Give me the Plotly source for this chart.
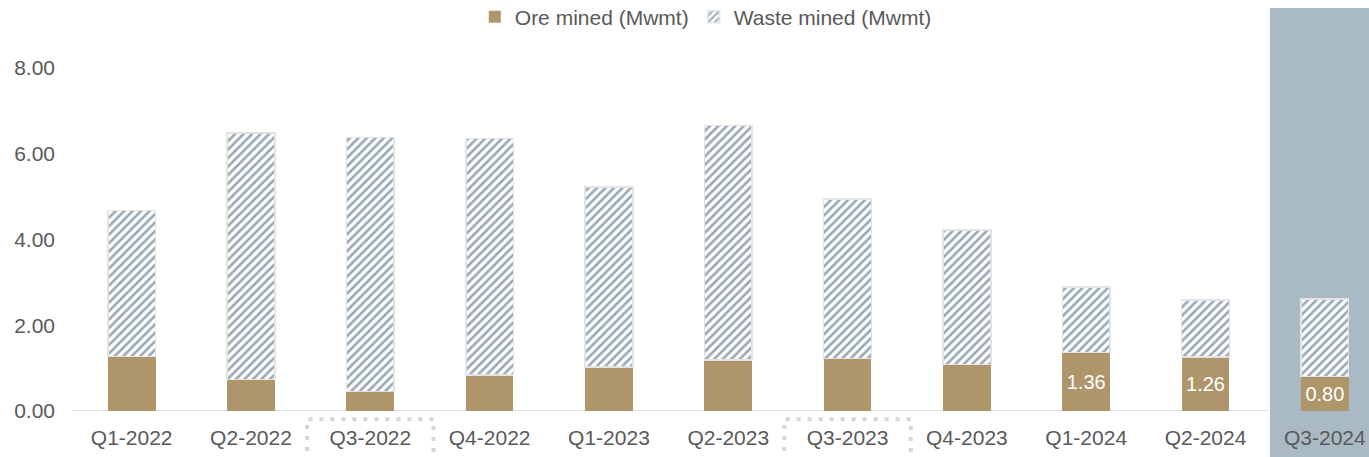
import plotly.graph_objects as go

quarters = ["Q1-2022", "Q2-2022", "Q3-2022", "Q4-2022", "Q1-2023", "Q2-2023",
            "Q3-2023", "Q4-2023", "Q1-2024", "Q2-2024", "Q3-2024"]
ore_mined = [1.27, 0.73, 0.45, 0.84, 1.03, 1.19, 1.22, 1.08, 1.36, 1.26, 0.80]
waste_mined = [3.41, 5.75, 5.93, 5.52, 4.20, 5.47, 3.73, 3.14, 1.53, 1.33, 1.81]
labelled = ["Q1-2024", "Q2-2024", "Q3-2024"]
highlight_boxes = ["Q3-2022", "Q3-2023"]
current_quarter = "Q3-2024"
y_ticks = [0, 2, 4, 6, 8]

FONT = "Liberation Sans, Arial, sans-serif"
ORE = "#AE966A"
TXT = "#595959"

FIG_W, FIG_H = 1369, 457
L, T, B = 72.4, 68, 46
PLOT_H = FIG_H - T - B  # 343
PLOT_W = FIG_W - L

ore_text = [f"{v:.2f}" if q in labelled else "" for q, v in zip(quarters, ore_mined)]

fig = go.Figure()
fig.add_trace(go.Bar(
    x=quarters, y=ore_mined, name="Ore mined (Mwmt)",
    marker=dict(color=ORE, line=dict(width=0)),
    text=ore_text, textposition="inside", insidetextanchor="middle",
    textfont=dict(color="white", size=20, family=FONT),
    hoverinfo="skip",
))
fig.add_trace(go.Bar(
    x=quarters, y=waste_mined, name="Waste mined (Mwmt)",
    marker=dict(color="white",
                line=dict(color="#E3E3E3", width=1.5),
                pattern=dict(shape="/", fgcolor="#2F4E6B", bgcolor="white",
                             size=6, solidity=0.42)),
    hoverinfo="skip",
))

idx_cur = quarters.index(current_quarter)
shapes = [
    dict(type="rect", xref="x", yref="paper",
         x0=idx_cur - 0.46, x1=idx_cur + 0.6, y0=-0.2, y1=(PLOT_H + 60) / PLOT_H,
         fillcolor="#AABAC5", line=dict(width=0), layer="below"),
    dict(type="line", xref="x", yref="y",
         x0=-0.5, x1=idx_cur - 0.46, y0=0, y1=0,
         line=dict(color="#D9D9D9", width=1.5), layer="below"),
]
for q in highlight_boxes:
    i = quarters.index(q)
    shapes.append(dict(type="rect", xref="x", yref="paper",
                       x0=i - 0.53, x1=i + 0.53, y0=-0.2, y1=-0.024,
                       line=dict(color="#D6D6D6", width=4, dash="4px,7px"),
                       fillcolor="rgba(0,0,0,0)", layer="above"))

fig.update_layout(
    width=FIG_W, height=FIG_H,
    margin=dict(l=L, r=0, t=T, b=B, autoexpand=False),
    paper_bgcolor="white", plot_bgcolor="white",
    barmode="stack", bargap=0.6,
    font=dict(family=FONT, size=21, color=TXT),
    showlegend=True,
    legend=dict(orientation="h", x=(706 - L) / PLOT_W, xanchor="center",
                y=(PLOT_H + 51) / PLOT_H, yanchor="middle",
                font=dict(size=21, color=TXT), traceorder="normal",
                itemwidth=30, bgcolor="rgba(0,0,0,0)"),
    shapes=shapes,
    xaxis=dict(range=[-0.5, 10.37], showline=False, showgrid=False,
               zeroline=False, ticks="", ticklabelstandoff=12,
               tickfont=dict(size=21, color=TXT), fixedrange=True),
    yaxis=dict(range=[0, 8], tickvals=y_ticks, tickformat=".2f",
               showgrid=False, zeroline=False, showline=False, ticks="",
               ticklabelstandoff=16, tickfont=dict(size=21, color=TXT),
               fixedrange=True),
)

fig.write_html("out.html", config={"displayModeBar": False},
               post_script="document.body.style.margin='0';"
                           "document.body.style.overflow='hidden';")
